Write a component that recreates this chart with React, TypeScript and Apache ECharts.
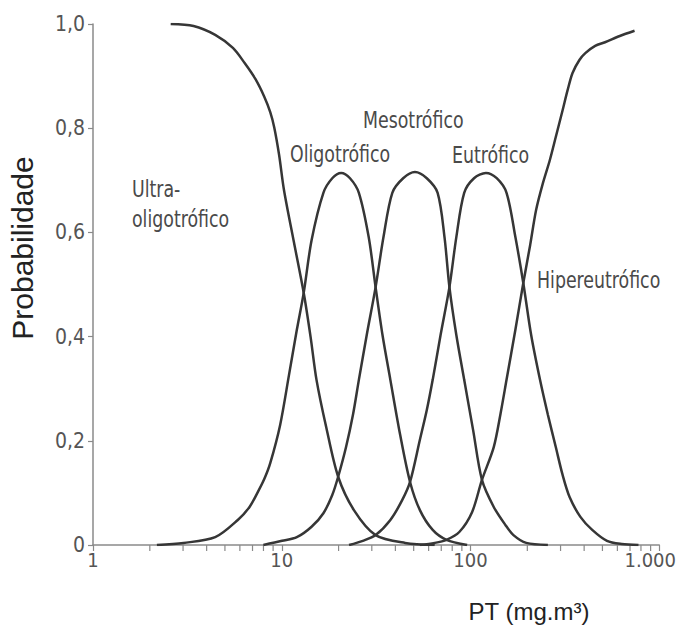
import React, { useEffect, useRef } from "react";
import * as echarts from "echarts";

// PT (mg.m³) values and probabilities
const ultraX = [2.58, 3.41, 4.44, 5.51, 6.36, 7.26, 8.09, 8.69, 9.12, 9.68, 10.28, 11.59, 13.07, 14.22, 15.28, 17.23, 19.9, 24.12, 31.42, 45.05, 64.58];
const ultraY = [1.0, 0.996, 0.979, 0.954, 0.925, 0.894, 0.86, 0.831, 0.802, 0.749, 0.681, 0.582, 0.484, 0.399, 0.317, 0.225, 0.131, 0.067, 0.019, 0.004, 0];

const oligoX = [2.18, 3.02, 4.44, 5.85, 6.75, 7.43, 8.09, 8.69, 9.8, 10.92, 12.02, 13.07, 14.39, 16.62, 18.52, 20.64, 22.99, 25.62, 28.88, 31.42, 34.18, 37.62, 42.42, 47.83, 53.94, 63.05, 74.59, 96.0];
const oligoY = [0, 0.004, 0.015, 0.048, 0.073, 0.1, 0.127, 0.157, 0.23, 0.326, 0.413, 0.484, 0.585, 0.676, 0.704, 0.714, 0.704, 0.676, 0.591, 0.495, 0.403, 0.317, 0.211, 0.121, 0.067, 0.029, 0.01, 0];

const mesoX = [7.99, 10.04, 12.02, 14.39, 16.62, 18.52, 19.9, 21.91, 23.84, 25.62, 28.2, 31.42, 34.59, 38.53, 43.98, 50.8, 58.68, 66.96, 72.82, 77.33, 84.13, 92.6, 103.2, 115.0, 132.8, 153.4, 168.9, 197.4, 257.0];
const mesoY = [0, 0.008, 0.015, 0.035, 0.061, 0.096, 0.131, 0.188, 0.25, 0.317, 0.403, 0.495, 0.591, 0.676, 0.704, 0.716, 0.704, 0.676, 0.591, 0.495, 0.403, 0.317, 0.221, 0.125, 0.073, 0.038, 0.019, 0.004, 0];

const eutroX = [22.72, 26.88, 31.42, 37.62, 43.45, 47.83, 53.94, 58.68, 63.05, 69.41, 77.33, 84.13, 92.6, 104.4, 120.6, 137.7, 155.2, 172.9, 190.4, 209.6, 233.5, 257.0, 283.0, 307.8, 334.9, 382.1, 441.4, 528.5, 632.9, 776.2];
const eutroY = [0, 0.008, 0.019, 0.048, 0.086, 0.121, 0.202, 0.259, 0.317, 0.403, 0.495, 0.591, 0.676, 0.704, 0.714, 0.704, 0.676, 0.591, 0.503, 0.403, 0.317, 0.25, 0.188, 0.134, 0.092, 0.054, 0.029, 0.008, 0.002, 0];

const hiperX = [53.94, 64.58, 74.59, 87.22, 101.9, 115.0, 132.8, 144.4, 155.2, 172.9, 190.4, 207.1, 222.6, 242.1, 263.3, 283.0, 307.8, 326.9, 347.2, 377.6, 405.8, 457.5, 516.0, 617.9, 739.8];
const hiperY = [0, 0.004, 0.01, 0.025, 0.063, 0.125, 0.188, 0.253, 0.317, 0.413, 0.503, 0.576, 0.643, 0.695, 0.739, 0.783, 0.835, 0.873, 0.906, 0.931, 0.944, 0.958, 0.965, 0.977, 0.987];

const minorTicks = [2, 3, 4, 5, 6, 7, 8, 9, 20, 30, 40, 50, 60, 70, 80, 90, 200, 300, 400, 500, 600, 700, 800, 900];
const yTickLabels = ["0", "0,2", "0,4", "0,6", "0,8", "1,0"];
const xTickLabels: Record<number, string> = { 1: "1", 10: "10", 100: "100", 1000: "1.000" };

const yAxisTitle = "Probabilidade";
const xAxisTitle = "PT (mg.m³)";
const curveNames = ["Ultra-", "oligotrófico", "Oligotrófico", "Mesotrófico", "Eutrófico", "Hipereutrófico"];

const NARROW = "'DejaVu Sans Condensed', 'DejaVu Sans', sans-serif";
const SANS = "'Liberation Sans', Arial, sans-serif";

function pairs(xs: number[], ys: number[]) {
  return xs.map((x, i) => [x, ys[i]]);
}

export default function App() {
  const ref = useRef<HTMLDivElement>(null);
  useEffect(() => {
    const chart = echarts.init(ref.current!, null, { renderer: "svg" });
    const lineSeries = (name: string, xs: number[], ys: number[]) => ({
      type: "line",
      name,
      data: pairs(xs, ys),
      smooth: 0.3,
      symbol: "none",
      showSymbol: false,
      silent: true,
      lineStyle: { color: "#363636", width: 2.5 },
      z: 3,
    });
    const labelPos = [
      [132, 189],
      [132, 219],
      [290, 154],
      [363, 120],
      [452, 155],
      [537, 280],
    ];
    const axisColor = "#8a8a8a";
    chart.setOption({
      animation: false,
      backgroundColor: "#ffffff",
      grid: { left: 93, right: 11, top: 24, bottom: 82 },
      xAxis: {
        type: "log",
        logBase: 10,
        min: 1,
        max: 1000,
        axisLine: { show: true, lineStyle: { color: axisColor, width: 1.5 } },
        axisTick: { show: true, length: 6, lineStyle: { color: axisColor, width: 1.2 } },
        minorTick: { show: false },
        splitLine: { show: false },
        axisLabel: {
          margin: 5,
          fontFamily: NARROW,
          fontSize: 20,
          color: "#555",
          formatter: (v: number) => {
            const s = xTickLabels[Math.round(v)] ?? String(v);
            return v >= 999 ? "{r|" + s + "}" : s;
          },
          rich: { r: { padding: [0, 18, 0, 0], fontFamily: NARROW, fontSize: 20, color: "#555" } },
        },
      },
      yAxis: {
        type: "value",
        min: 0,
        max: 1,
        interval: 0.2,
        axisLine: { show: true, lineStyle: { color: axisColor, width: 1.5 } },
        axisTick: { show: true, length: 5, lineStyle: { color: axisColor, width: 1.2 } },
        splitLine: { show: false },
        axisLabel: {
          margin: 8,
          fontFamily: NARROW,
          fontSize: 21,
          color: "#555",
          formatter: (v: number) => yTickLabels[Math.round(v / 0.2)],
        },
      },
      series: [
        lineSeries("Ultra-oligotrófico", ultraX, ultraY),
        lineSeries("Oligotrófico", oligoX, oligoY),
        lineSeries("Mesotrófico", mesoX, mesoY),
        lineSeries("Eutrófico", eutroX, eutroY),
        lineSeries("Hipereutrófico", hiperX, hiperY),
        {
          type: "custom",
          name: "minor ticks",
          silent: true,
          clip: false,
          data: minorTicks.map((v) => [v, 0]),
          encode: { x: 0, y: 1 },
          renderItem: (_params: any, api: any) => {
            const p = api.coord([api.value(0), 0]);
            return {
              type: "line",
              shape: { x1: p[0], y1: p[1], x2: p[0], y2: p[1] + 6 },
              style: { stroke: axisColor, lineWidth: 1.2 },
            };
          },
        },
      ],
      graphic: [
        ...curveNames.map((t, i) => ({
          type: "text",
          x: labelPos[i][0],
          y: labelPos[i][1],
          scaleX: 0.84,
          silent: true,
          style: {
            text: t,
            fontFamily: NARROW,
            fontSize: 23,
            fill: "#4a4a4a",
            align: "left",
            verticalAlign: "middle",
          },
        })),
        {
          type: "text",
          x: 22,
          y: 248,
          rotation: Math.PI / 2,
          silent: true,
          style: {
            text: yAxisTitle,
            fontFamily: SANS,
            fontSize: 30,
            fill: "#222",
            align: "center",
            verticalAlign: "middle",
          },
        },
        {
          type: "text",
          x: 529,
          y: 611,
          silent: true,
          style: {
            text: xAxisTitle,
            fontFamily: SANS,
            fontSize: 24,
            fill: "#222",
            align: "center",
            verticalAlign: "middle",
          },
        },
      ],
    });
    return () => chart.dispose();
  }, []);
  return <div ref={ref} style={{ position: "fixed", left: 0, top: 0, width: 679, height: 627 }} />;
}
